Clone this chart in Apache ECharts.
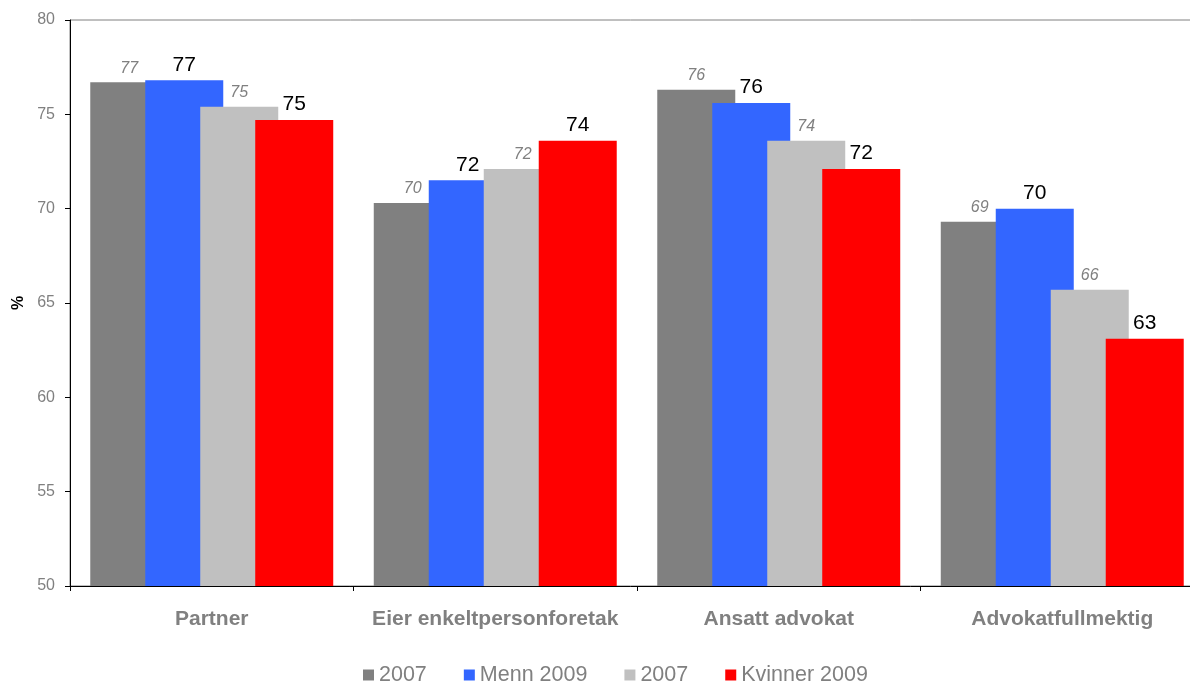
<!DOCTYPE html>
<html>
<head>
<meta charset="utf-8">
<script src="https://cdn.jsdelivr.net/npm/echarts@6/dist/echarts.min.js"></script>
<style>
html,body{margin:0;padding:0;background:#fff;overflow:hidden;}
#chart{width:1190px;height:681px;}
</style>
</head>
<body>
<div id="chart"></div>
<script>
const categories = ['Partner', 'Eier enkeltpersonforetak', 'Ansatt advokat', 'Advokatfullmektig'];
const seriesNames = ['2007', 'Menn 2009', '2007 ', 'Kvinner 2009'];
const menn2007 = [76.7, 70.3, 76.3, 69.3];
const menn2009 = [76.8, 71.5, 75.6, 70.0];
const kvinner2007 = [75.4, 72.1, 73.6, 65.7];
const kvinner2009 = [74.7, 73.6, 72.1, 63.1];
const yTicks = { min: 50, max: 80, interval: 5 };
const colors = ['#808080', '#3366FF', '#C0C0C0', '#FF0000'];

const FONT = 'Liberation Sans, Arial, sans-serif';
const chart = echarts.init(document.getElementById('chart'));

function makeSeries(i, data, italic) {
  return {
    name: seriesNames[i],
    type: 'bar',
    data: data,
    barWidth: 78,
    barGap: '-29.5%',
    itemStyle: { color: colors[i] },
    label: {
      show: true,
      position: 'top',
      distance: italic ? 6 : 5,
      formatter: p => String(Math.round(p.value)),
      color: italic ? '#808080' : '#000000',
      fontStyle: italic ? 'italic' : 'normal',
      fontSize: italic ? 16 : 21,
      fontFamily: FONT
    },
    emphasis: { disabled: true }
  };
}

chart.setOption({
  animation: false,
  color: colors,
  grid: {
    left: 70, top: 20, width: 1134, height: 566,
    outerBoundsMode: 'none',
    containLabel: false,
    show: true, borderColor: '#808080', borderWidth: 1, backgroundColor: 'transparent'
  },
  legend: {
    left: 358, top: 659,
    itemWidth: 11, itemHeight: 11, itemGap: 37,
    icon: 'rect',
    formatter: n => n.trim(),
    textStyle: { color: '#808080', fontSize: 21.5, fontFamily: FONT }
  },
  xAxis: {
    type: 'category',
    data: categories,
    axisLine: { lineStyle: { color: '#000', width: 1 } },
    axisTick: { show: true, length: 5, lineStyle: { color: '#000' } },
    axisLabel: { interval: 0, color: '#808080', fontWeight: 'bold', fontSize: 21, fontFamily: FONT, margin: 23 }
  },
  yAxis: {
    type: 'value',
    min: yTicks.min, max: yTicks.max, interval: yTicks.interval,
    name: '%',
    nameLocation: 'middle',
    nameGap: 43,
    nameTextStyle: { color: '#000', fontWeight: 'bold', fontSize: 16, fontFamily: FONT },
    axisLine: { show: true, lineStyle: { color: '#000', width: 1 } },
    axisTick: { show: true, length: 5, lineStyle: { color: '#000' } },
    splitLine: { show: false },
    axisLabel: { color: '#808080', fontSize: 16, fontFamily: FONT, margin: 15 }
  },
  series: [
    makeSeries(0, menn2007, true),
    makeSeries(1, menn2009, false),
    makeSeries(2, kvinner2007, true),
    makeSeries(3, kvinner2009, false)
  ]
});
</script>
</body>
</html>
